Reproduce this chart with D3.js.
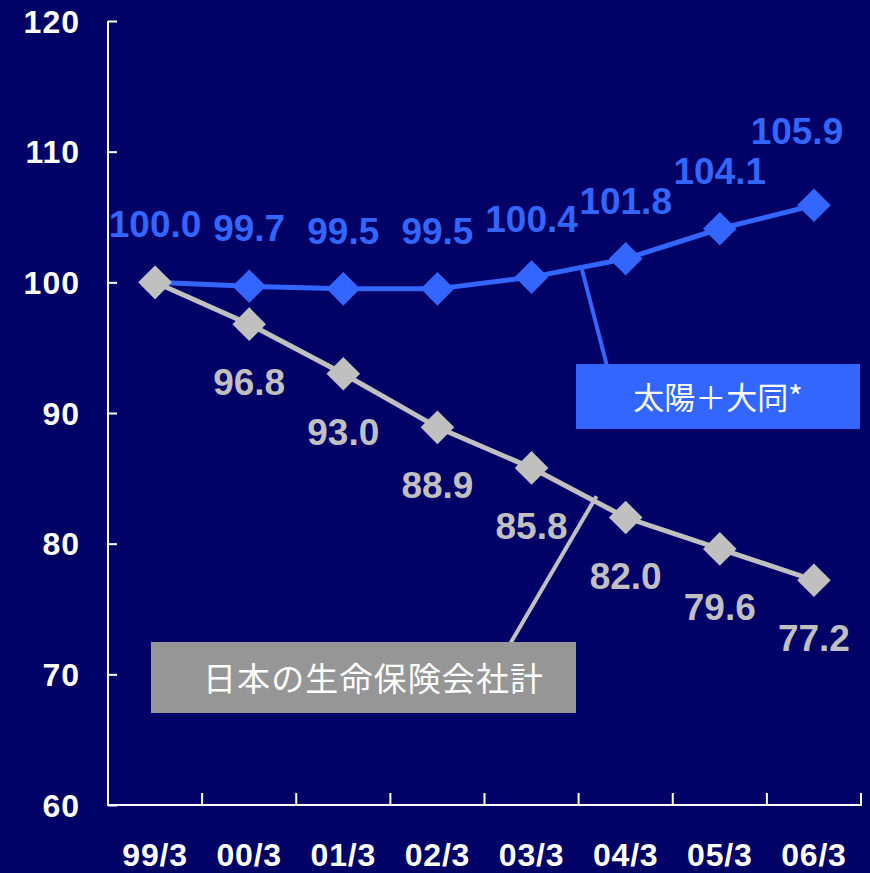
<!DOCTYPE html>
<html>
<head>
<meta charset="utf-8">
<script src="https://cdn.jsdelivr.net/npm/d3@7"></script>
<style>
  html, body { margin: 0; padding: 0; background: #000066; }
  svg { display: block; }
</style>
</head>
<body>
<svg id="chart" width="870" height="873"></svg>
<script>
// Fiscal year-ends (March)
const periods = ["99/3", "00/3", "01/3", "02/3", "03/3", "04/3", "05/3", "06/3"];
// Index, 99/3 = 100
const taiyoDaido = [100.0, 99.7, 99.5, 99.5, 100.4, 101.8, 104.1, 105.9];
const japanLifeTotal = [100.0, 96.8, 93.0, 88.9, 85.8, 82.0, 79.6, 77.2];
const yTicks = [60, 70, 80, 90, 100, 110, 120];
const seriesNames = ["太陽＋大同*", "日本の生命保険会社計"];

const BG = "#000066", BLUE = "#3366FF", GREY = "#C0C0C0", BOXGREY = "#969696";
const latin = "'Liberation Sans', Arial, sans-serif";
const cjk = "'Noto Sans CJK JP', 'Noto Sans', sans-serif";

const svg = d3.select("#chart");
svg.append("rect").attr("width", 870).attr("height", 873).attr("fill", BG);

const x = d3.scaleBand().domain(periods).range([108, 861]).paddingInner(0).paddingOuter(0);
const cx = d => x(d) + x.bandwidth() / 2;
const y = d3.scaleLinear().domain([60, 120]).range([805, 21]);

// Y axis: ticks point inward
const yAxis = svg.append("g")
  .attr("transform", "translate(108,0)")
  .call(d3.axisRight(y).tickValues(yTicks).tickSize(9).tickFormat(""));
yAxis.select(".domain").attr("stroke", "#fff").attr("stroke-width", 2)
  .attr("d", `M0,${y(120)}H0V${y(60)}`);
yAxis.selectAll(".tick line").attr("stroke", "#fff").attr("stroke-width", 2);

svg.append("g").selectAll("text").data(yTicks).join("text")
  .attr("x", 80).attr("y", d => y(d)).attr("dy", "0.36em")
  .attr("text-anchor", "end")
  .attr("font-family", latin).attr("font-weight", "bold")
  .attr("font-size", 32).attr("letter-spacing", 1)
  .attr("fill", "#fff").text(d => d);

// X axis: ticks at category boundaries, pointing up
const bounds = periods.map(p => x(p)).concat([x.range()[1]]);
const xg = svg.append("g");
xg.append("line").attr("x1", 107).attr("x2", 862).attr("y1", y(60)).attr("y2", y(60))
  .attr("stroke", "#fff").attr("stroke-width", 2);
xg.selectAll("line.tk").data(bounds.slice(1)).join("line").attr("class", "tk")
  .attr("x1", d => d).attr("x2", d => d).attr("y1", y(60)).attr("y2", y(60) - 12)
  .attr("stroke", "#fff").attr("stroke-width", 2);
xg.selectAll("text").data(periods).join("text")
  .attr("x", d => cx(d)).attr("y", 866)
  .attr("text-anchor", "middle")
  .attr("font-family", latin).attr("font-weight", "bold")
  .attr("font-size", 32).attr("letter-spacing", 0.8)
  .attr("fill", "#fff").text(d => d);

const line = d3.line().x((d, i) => cx(periods[i])).y(d => y(d));
const diamond = d3.symbol().type(d3.symbolDiamond2).size(720);

function drawSeries(values, color) {
  const g = svg.append("g");
  g.append("path").datum(values).attr("d", line)
    .attr("fill", "none").attr("stroke", color).attr("stroke-width", 5);
  g.selectAll("path.mk").data(values).join("path").attr("class", "mk")
    .attr("d", diamond)
    .attr("transform", (d, i) => `translate(${cx(periods[i])},${y(d)})`)
    .attr("fill", color);
  return g;
}

// Leader lines sit beneath the series
function pointOn(values, i, t) {
  return [cx(periods[i]) + t * (cx(periods[i + 1]) - cx(periods[i])),
          y(values[i]) + t * (y(values[i + 1]) - y(values[i]))];
}
const blueAnchor = pointOn(taiyoDaido, 4, 0.53);
svg.append("line").attr("x1", blueAnchor[0]).attr("y1", blueAnchor[1])
  .attr("x2", 607).attr("y2", 366).attr("stroke", BLUE).attr("stroke-width", 4);
const greyAnchor = pointOn(japanLifeTotal, 4, 0.69);
svg.append("line").attr("x1", greyAnchor[0]).attr("y1", greyAnchor[1] - 6)
  .attr("x2", 510).attr("y2", 644).attr("stroke", GREY).attr("stroke-width", 4);

drawSeries(taiyoDaido, BLUE);
drawSeries(japanLifeTotal, GREY);

// Value labels
const lblFont = 37;
svg.append("g").selectAll("text").data(taiyoDaido).join("text")
  .attr("x", (d, i) => cx(periods[i]) - (i === periods.length - 1 ? 17 : 0))
  .attr("y", (d, i) => y(d) - (i === periods.length - 1 ? 61 : 45))
  .attr("text-anchor", "middle")
  .attr("font-family", latin).attr("font-weight", "bold").attr("font-size", lblFont)
  .attr("fill", BLUE).text(d => d.toFixed(1));
svg.append("g").selectAll("text").data(japanLifeTotal.slice(1)).join("text")
  .attr("x", (d, i) => cx(periods[i + 1]))
  .attr("y", d => y(d) + 71)
  .attr("text-anchor", "middle")
  .attr("font-family", latin).attr("font-weight", "bold").attr("font-size", lblFont)
  .attr("fill", GREY).text(d => d.toFixed(1));

// Series name boxes
svg.append("rect").attr("x", 576).attr("y", 364).attr("width", 284).attr("height", 65).attr("fill", BLUE);
svg.append("text").attr("x", 718).attr("y", 409).attr("text-anchor", "middle")
  .attr("font-family", cjk).attr("font-size", 31).attr("fill", "#fff").text(seriesNames[0]);

svg.append("rect").attr("x", 151).attr("y", 642).attr("width", 425).attr("height", 71).attr("fill", BOXGREY);
svg.append("text").attr("x", 203).attr("y", 691).attr("text-anchor", "start")
  .attr("font-family", cjk).attr("font-size", 33).attr("fill", "#fff")
  .attr("textLength", 340).attr("lengthAdjust", "spacing").text(seriesNames[1]);
</script>
</body>
</html>
